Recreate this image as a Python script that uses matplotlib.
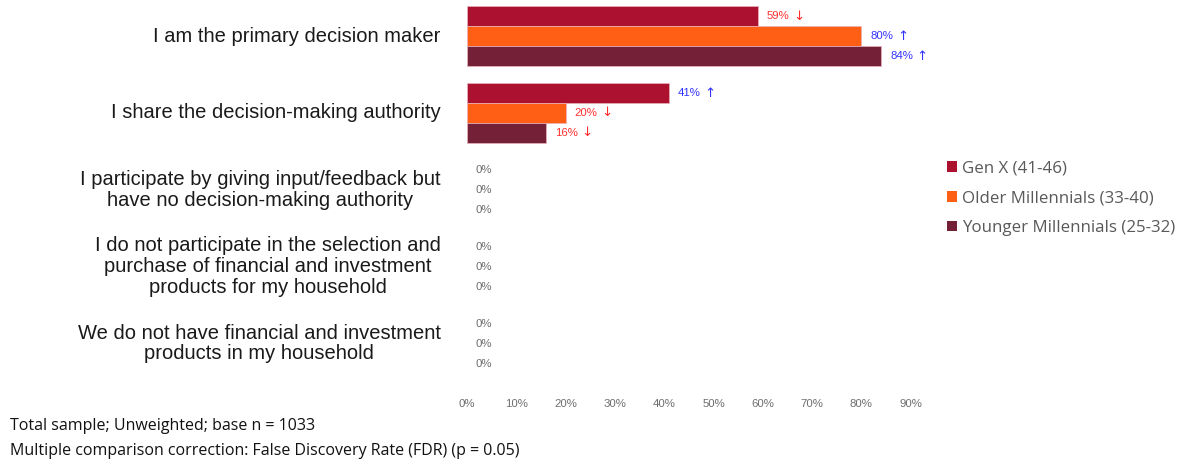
import numpy as np
import matplotlib.pyplot as plt
from matplotlib.patches import Patch

# survey answers and shares per generation (%)
categories = [
    "I am the primary decision maker",
    "I share the decision-making authority",
    "I participate by giving input/feedback but\nhave no decision-making authority",
    "I do not participate in the selection and\npurchase of financial and investment\nproducts for my household",
    "We do not have financial and investment\nproducts in my household",
]
series_names = ["Gen X (41-46)", "Older Millennials (33-40)", "Younger Millennials (25-32)"]
gen_x = [59, 41, 0, 0, 0]
older_mill = [80, 20, 0, 0, 0]
younger_mill = [84, 16, 0, 0, 0]
# significance marks: +1 higher, -1 lower, 0 none
gen_x_sig = [-1, 1, 0, 0, 0]
older_mill_sig = [1, -1, 0, 0, 0]
younger_mill_sig = [1, -1, 0, 0, 0]
x_ticks = [0, 10, 20, 30, 40, 50, 60, 70, 80, 90]
footnotes = [
    "Total sample; Unweighted; base n = 1033",
    "Multiple comparison correction: False Discovery Rate (FDR) (p = 0.05)",
]

colors = ["#AC1230", "#FF5F14", "#742138"]
up_color = "#3333FF"
down_color = "#FF2E2E"
grey = "#6E6E6E"

fig = plt.figure(figsize=(11.97, 4.61), dpi=100)
ax_left = 467 / 1197
ax_xmax = 95
ax_width = ax_xmax * 4.93 / 1197
ax = fig.add_axes([ax_left, 79 / 461, ax_width, 382 / 461])

y = np.arange(len(categories))
h = 0.26
all_vals = [gen_x, older_mill, younger_mill]
all_sig = [gen_x_sig, older_mill_sig, younger_mill_sig]

for k, (vals, sig) in enumerate(zip(all_vals, all_sig)):
    pos = y + (k - 1) * h
    lw = [0.5 if v > 0 else 0 for v in vals]
    ax.barh(pos, vals, height=h, color=colors[k], edgecolor="#E9B3BC", linewidth=lw)
    for p, v, s in zip(pos, vals, sig):
        c = grey if s == 0 else (up_color if s > 0 else down_color)
        ax.annotate(f"{v}%", xy=(v, p), xytext=(9, 0), textcoords="offset pixels",
                    va="center", ha="left", fontsize=8.2, color=c,
                    family="Liberation Sans")
        if s != 0:
            ax.annotate("\u2191" if s > 0 else "\u2193", xy=(v, p), xytext=(41, 0),
                        textcoords="offset pixels", va="center", ha="center",
                        fontsize=9.5, color=c, family="DejaVu Sans")

ax.set_xlim(0, ax_xmax)
ax.set_ylim(4.5, -0.47)
ax.set_xticks(x_ticks)
ax.set_xticklabels([f"{t}%" for t in x_ticks], fontsize=8.2, color=grey,
                   family="Liberation Sans")
ax.tick_params(axis="x", length=0, pad=12)
ax.set_yticks(y)
ax.set_yticklabels([])
ax.tick_params(axis="y", length=0)
for sp in ax.spines.values():
    sp.set_visible(False)

for yi, cat in zip(y, categories):
    ax.text(-5.3, yi, cat, ha="right", va="center", multialignment="center",
            fontsize=14.5, color="#1A1A1A", family="Liberation Sans", linespacing=1.12)

handles = [Patch(facecolor=c, edgecolor="none") for c in colors]
fig.legend(handles, series_names, loc="upper left", bbox_to_anchor=(932 / 1197, 1 - 145 / 461),
           frameon=False, handlelength=0.6, handleheight=0.6, handletextpad=0.3,
           labelspacing=0.82, prop={"family": "Open Sans", "size": 12.2},
           labelcolor="#595959")

fig.text(10 / 1197, 1 - 426 / 461, footnotes[0], fontsize=11.5, family="Open Sans",
         color="#111111", va="center")
fig.text(10 / 1197, 1 - 451 / 461, footnotes[1], fontsize=11.5, family="Open Sans",
         color="#111111", va="center")

fig.savefig("out.png", dpi=100)
